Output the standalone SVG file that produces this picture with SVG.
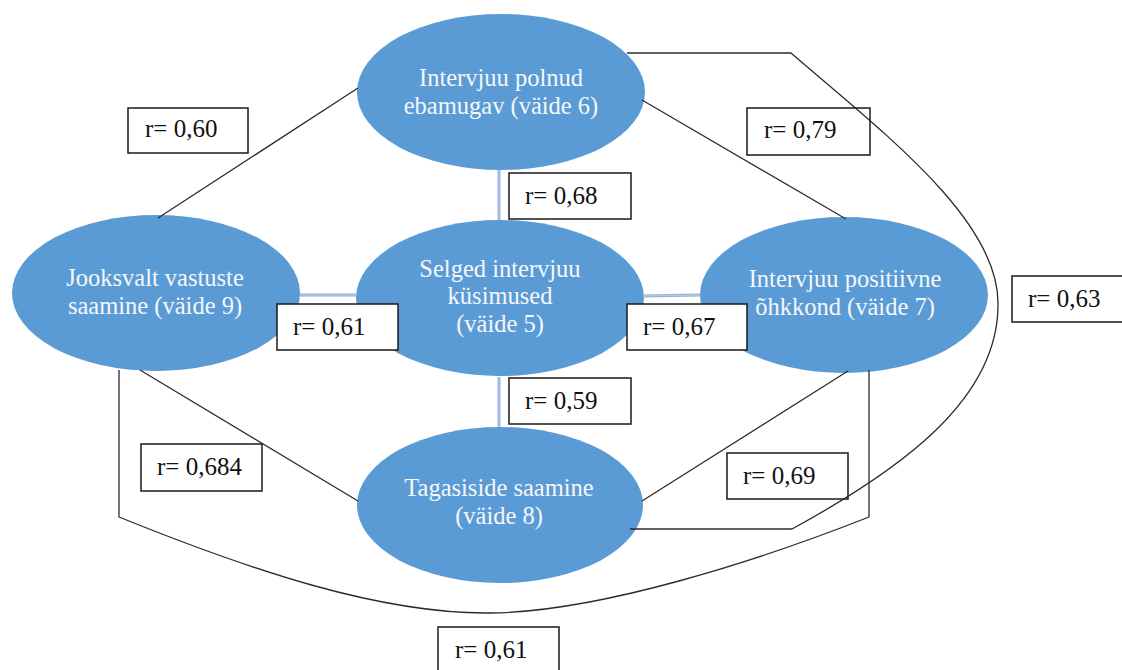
<svg xmlns="http://www.w3.org/2000/svg" width="1122" height="670" viewBox="0 0 1122 670">
<style>
.node{fill:#5b9bd5;}
.nt{font-family:"Liberation Serif","Times New Roman","DejaVu Serif",serif;font-size:24.5px;fill:#f4f7fb;text-anchor:middle;}
.lbl rect{fill:#ffffff;stroke:#1a1a1a;stroke-width:1.5;}
.lbl text{font-family:"Liberation Serif","Times New Roman","DejaVu Serif",serif;font-size:25px;fill:#111111;}
.ln{fill:none;stroke:#2b2b2b;stroke-width:1.3;}
.bl{fill:none;stroke:#8fb0d6;stroke-width:3;}
.bli{fill:none;stroke:#c4d6ea;stroke-width:0.8;}
</style>
<rect width="1122" height="670" fill="#ffffff"/>
<g id="node-v6">
  <ellipse class="node" cx="501" cy="92" rx="144" ry="78"/>
  <text class="nt" x="501" y="86">Intervjuu polnud</text>
  <text class="nt" x="501" y="114">ebamugav (väide 6)</text>
</g>
<g id="node-v5">
  <ellipse class="node" cx="500" cy="298" rx="144" ry="78"/>
  <text class="nt" x="500" y="277">Selged intervjuu</text>
  <text class="nt" x="500" y="304">küsimused</text>
  <text class="nt" x="500" y="332">(väide 5)</text>
</g>
<g id="node-v9">
  <ellipse class="node" cx="156" cy="293" rx="144" ry="78"/>
  <text class="nt" x="155" y="286">Jooksvalt vastuste</text>
  <text class="nt" x="155" y="314">saamine (väide 9)</text>
</g>
<g id="node-v7">
  <ellipse class="node" cx="844" cy="295" rx="144" ry="78"/>
  <text class="nt" x="845" y="287">Intervjuu positiivne</text>
  <text class="nt" x="845" y="315">õhkkond (väide 7)</text>
</g>
<g id="node-v8">
  <ellipse class="node" cx="500" cy="505" rx="143" ry="78"/>
  <text class="nt" x="499" y="496">Tagasiside saamine</text>
  <text class="nt" x="499" y="524">(väide 8)</text>
</g>
<g id="labels">
  <g class="lbl"><rect x="128" y="108" width="120" height="45"/><text x="145" y="137">r= 0,60</text></g>
  <g class="lbl"><rect x="747" y="108" width="123" height="47"/><text x="764" y="138">r= 0,79</text></g>
  <g class="lbl"><rect x="509" y="173" width="122" height="46"/><text x="525" y="204">r= 0,68</text></g>
  <g class="lbl"><rect x="277" y="304" width="121" height="46"/><text x="293" y="335">r= 0,61</text></g>
  <g class="lbl"><rect x="627" y="304" width="120" height="46"/><text x="643" y="335">r= 0,67</text></g>
  <g class="lbl"><rect x="509" y="378" width="122" height="46"/><text x="525" y="409">r= 0,59</text></g>
  <g class="lbl"><rect x="1012" y="276" width="114" height="46"/><text x="1028" y="307">r= 0,63</text></g>
  <g class="lbl"><rect x="141" y="444" width="121" height="47"/><text x="157" y="475">r= 0,684</text></g>
  <g class="lbl"><rect x="727" y="453" width="121" height="46"/><text x="743" y="484">r= 0,69</text></g>
  <g class="lbl"><rect x="438" y="627" width="121" height="48"/><text x="455" y="658">r= 0,61</text></g>
</g>
<g id="connectors">
  <line class="ln" x1="358" y1="88" x2="158" y2="218"/>
  <line class="ln" x1="642" y1="100" x2="846" y2="219"/>
  <path class="ln" d="M627,53 H791 C880,130 1000,220 998,305 C998,400 900,470 792,529 H630"/>
  <line class="ln" x1="140" y1="370" x2="358" y2="501"/>
  <path class="ln" d="M119,370 V517 C250,570 380,614 490,613 C600,612 760,560 869,517 V370"/>
  <line class="ln" x1="848" y1="371" x2="642" y2="501"/>
  <line class="bl" x1="499" y1="170" x2="499" y2="220"/>
  <line class="bl" x1="499" y1="377" x2="499" y2="427"/>
  <line class="bl" x1="300" y1="295" x2="356" y2="295"/>
  <line class="bl" x1="643" y1="296" x2="700" y2="295"/>
  <line class="bli" x1="499" y1="170" x2="499" y2="220"/>
  <line class="bli" x1="499" y1="377" x2="499" y2="427"/>
  <line class="bli" x1="300" y1="295" x2="356" y2="295"/>
  <line class="bli" x1="643" y1="296" x2="700" y2="295"/>
</g>
</svg>
